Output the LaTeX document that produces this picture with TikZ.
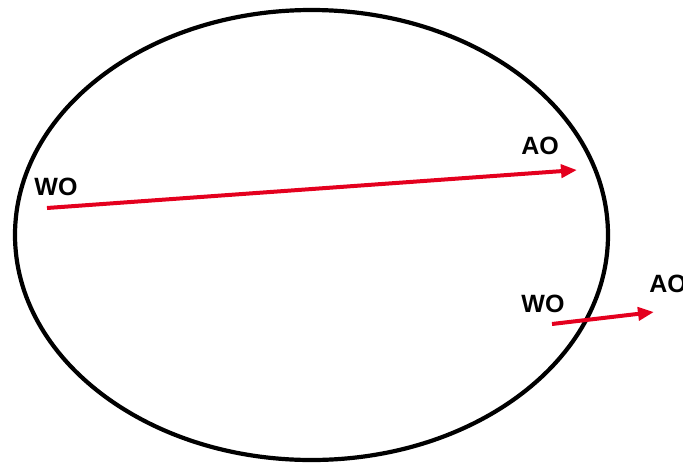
\documentclass[tikz,border=0pt]{standalone}
\usepackage{fontspec}
\setmainfont{Liberation Sans}
\usetikzlibrary{arrows.meta}
\definecolor{arrred}{RGB}{228,0,30}
\begin{document}
\begin{tikzpicture}[x=1pt,y=-1pt,
  lbl/.style={font=\fontsize{25}{28}\selectfont\bfseries, inner sep=0pt},
  redarrow/.style={draw=arrred, line width=4pt, -{Triangle[length=16pt,width=13pt]}}]
\useasboundingbox (0,0) rectangle (683,464);
\draw[line width=4.2pt] (311.5,235) ellipse [x radius=296.5, y radius=225];
\node[lbl] (wo1) at (56,187) {WO};
\node[lbl] (ao1) at (540,146) {AO};
\node[lbl] (wo2) at (543,304) {WO};
\node[lbl] (ao2) at (668,284) {AO};
\coordinate (s1) at (47,208);
\coordinate (e1) at (577,170);
\coordinate (s2) at (552,324);
\coordinate (e2) at (654,312);
\draw[redarrow] (s1) -- (e1);
\draw[redarrow] (s2) -- (e2);
\end{tikzpicture}
\end{document}
